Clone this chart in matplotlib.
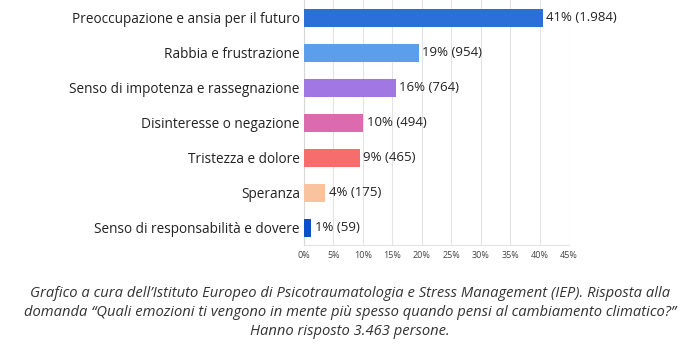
import matplotlib
matplotlib.use("Agg")
import matplotlib.pyplot as plt

categories = [
    "Preoccupazione e ansia per il futuro",
    "Rabbia e frustrazione",
    "Senso di impotenza e rassegnazione",
    "Disinteresse o negazione",
    "Tristezza e dolore",
    "Speranza",
    "Senso di responsabilità e dovere",
]
percent = [40.5, 19.5, 15.6, 10.1, 9.5, 3.6, 1.2]
pct_labels = ["41%", "19%", "16%", "10%", "9%", "4%", "1%"]
counts = ["1.984", "954", "764", "494", "465", "175", "59"]
colors = ["#2B6FD9", "#5B9FEC", "#A077E3", "#DB6AAE", "#F56D6D", "#F9C3A0", "#0A50C8"]
ticks = [0, 5, 10, 15, 20, 25, 30, 35, 40, 45]

caption = ("Grafico a cura dell\u2019Istituto Europeo di Psicotraumatologia e Stress Management (IEP). Risposta alla\n"
           "domanda \u201cQuali emozioni ti vengono in mente più spesso quando pensi al cambiamento climatico?\u201d\n"
           "Hanno risposto 3.463 persone.")

fig = plt.figure(figsize=(7, 3.49), dpi=100)
ax = fig.add_axes([304/700, 1-245/349, (569-304)/700, 245/349])
ypos = list(range(len(categories)))
ax.barh(ypos, percent, height=0.49, color=colors, zorder=3)
for y, p, pl, c in zip(ypos, percent, pct_labels, counts):
    ax.text(p + 0.6, y, f"{pl} ({c})", va="center", ha="left",
            fontsize=9.5, family="Open Sans", color="#222222")
ax.set_ylim(6.486, -0.514)
ax.set_xlim(0, 45)
ax.set_yticks(ypos)
ax.set_yticklabels(categories, fontsize=9.8, family="Open Sans", color="#222222")
ax.set_xticks(ticks)
ax.set_xticklabels([f"{t}%" for t in ticks], fontsize=6.5, family="Open Sans", color="#444444")
ax.tick_params(axis="y", length=0, pad=3)
ax.tick_params(axis="x", length=0, pad=4)
ax.grid(axis="x", color="#e3e3e3", linewidth=0.8, zorder=0)
for s in ["top", "right"]:
    ax.spines[s].set_visible(False)
ax.spines["bottom"].set_color("#e3e3e3")
ax.spines["bottom"].set_linewidth(0.8)
ax.spines["left"].set_color("#d8d8d8")
ax.spines["left"].set_linewidth(0.8)

fig.text(0.5, 1 - 312.5/349, caption, ha="center", va="center", fontsize=10.6,
         family="Open Sans", style="italic", color="#333333", linespacing=1.38)

fig.savefig("out.png", dpi=100)
